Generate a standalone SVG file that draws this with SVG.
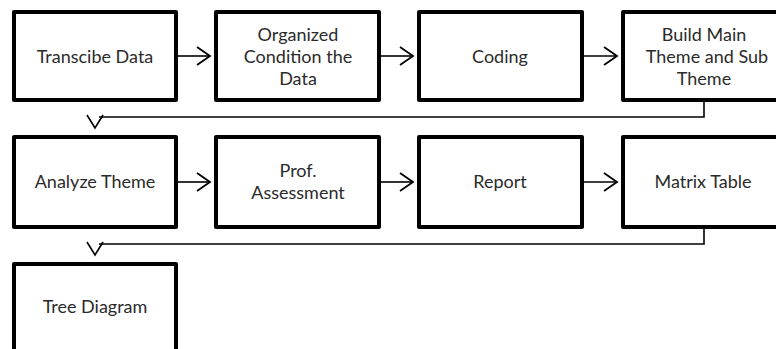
<svg xmlns="http://www.w3.org/2000/svg" width="776" height="349" viewBox="0 0 776 349">
<style>
.box{fill:#fff;stroke:#000;stroke-width:4;stroke-linejoin:round}
.t{font-family:Lato,"Open Sans",sans-serif;font-size:18px;fill:#2b2b2b;text-anchor:middle}
.c{fill:none;stroke:#000;stroke-width:1.6}
</style>
<defs>
<marker id="ah" markerWidth="16" markerHeight="20" refX="14" refY="10" orient="auto" markerUnits="userSpaceOnUse">
<polyline points="1,1 14,10 1,19" fill="none" stroke="#000" stroke-width="1.8"/>
</marker>
</defs>
<rect width="776" height="349" fill="#fff"/>
<g id="n1"><rect class="box" x="14" y="12" width="162" height="88"/><text class="t" x="95" y="62.5">Transcibe Data</text></g>
<g id="n2"><rect class="box" x="216" y="12" width="163" height="88"/><text class="t" x="298" y="40.5">Organized</text><text class="t" x="298" y="62.5">Condition the</text><text class="t" x="298" y="84.5">Data</text></g>
<g id="n3"><rect class="box" x="419" y="12" width="163" height="88"/><text class="t" x="500" y="62.5">Coding</text></g>
<g id="n4"><rect class="box" x="623" y="12" width="163" height="88"/><text class="t" x="704" y="40.5">Build Main</text><text class="t" x="707" y="62.5">Theme and Sub</text><text class="t" x="704" y="84.5">Theme</text></g>
<g id="n5"><rect class="box" x="14" y="137" width="162" height="90"/><text class="t" x="95" y="188">Analyze Theme</text></g>
<g id="n6"><rect class="box" x="216" y="137" width="163" height="90"/><text class="t" x="298" y="177">Prof.</text><text class="t" x="298" y="199">Assessment</text></g>
<g id="n7"><rect class="box" x="419" y="137" width="163" height="90"/><text class="t" x="500" y="188">Report</text></g>
<g id="n8"><rect class="box" x="623" y="137" width="163" height="90"/><text class="t" x="703" y="188">Matrix Table</text></g>
<g id="n9"><rect class="box" x="14" y="264" width="162" height="100"/><text class="t" x="95" y="313">Tree Diagram</text></g>
<g id="connectors">
<line class="c" x1="178" y1="56" x2="210" y2="56" marker-end="url(#ah)"/>
<line class="c" x1="381" y1="56" x2="413" y2="56" marker-end="url(#ah)"/>
<line class="c" x1="584" y1="56" x2="617" y2="56" marker-end="url(#ah)"/>
<line class="c" x1="178" y1="182" x2="210" y2="182" marker-end="url(#ah)"/>
<line class="c" x1="381" y1="182" x2="413" y2="182" marker-end="url(#ah)"/>
<line class="c" x1="584" y1="182" x2="617" y2="182" marker-end="url(#ah)"/>
<path class="c" d="M704 102 V117 H99"/>
<polyline class="c" points="87,115 95,128 103,115"/>
<path class="c" d="M704 229 V244 H99"/>
<polyline class="c" points="87,242 95,255 103,242"/>
</g>
</svg>
